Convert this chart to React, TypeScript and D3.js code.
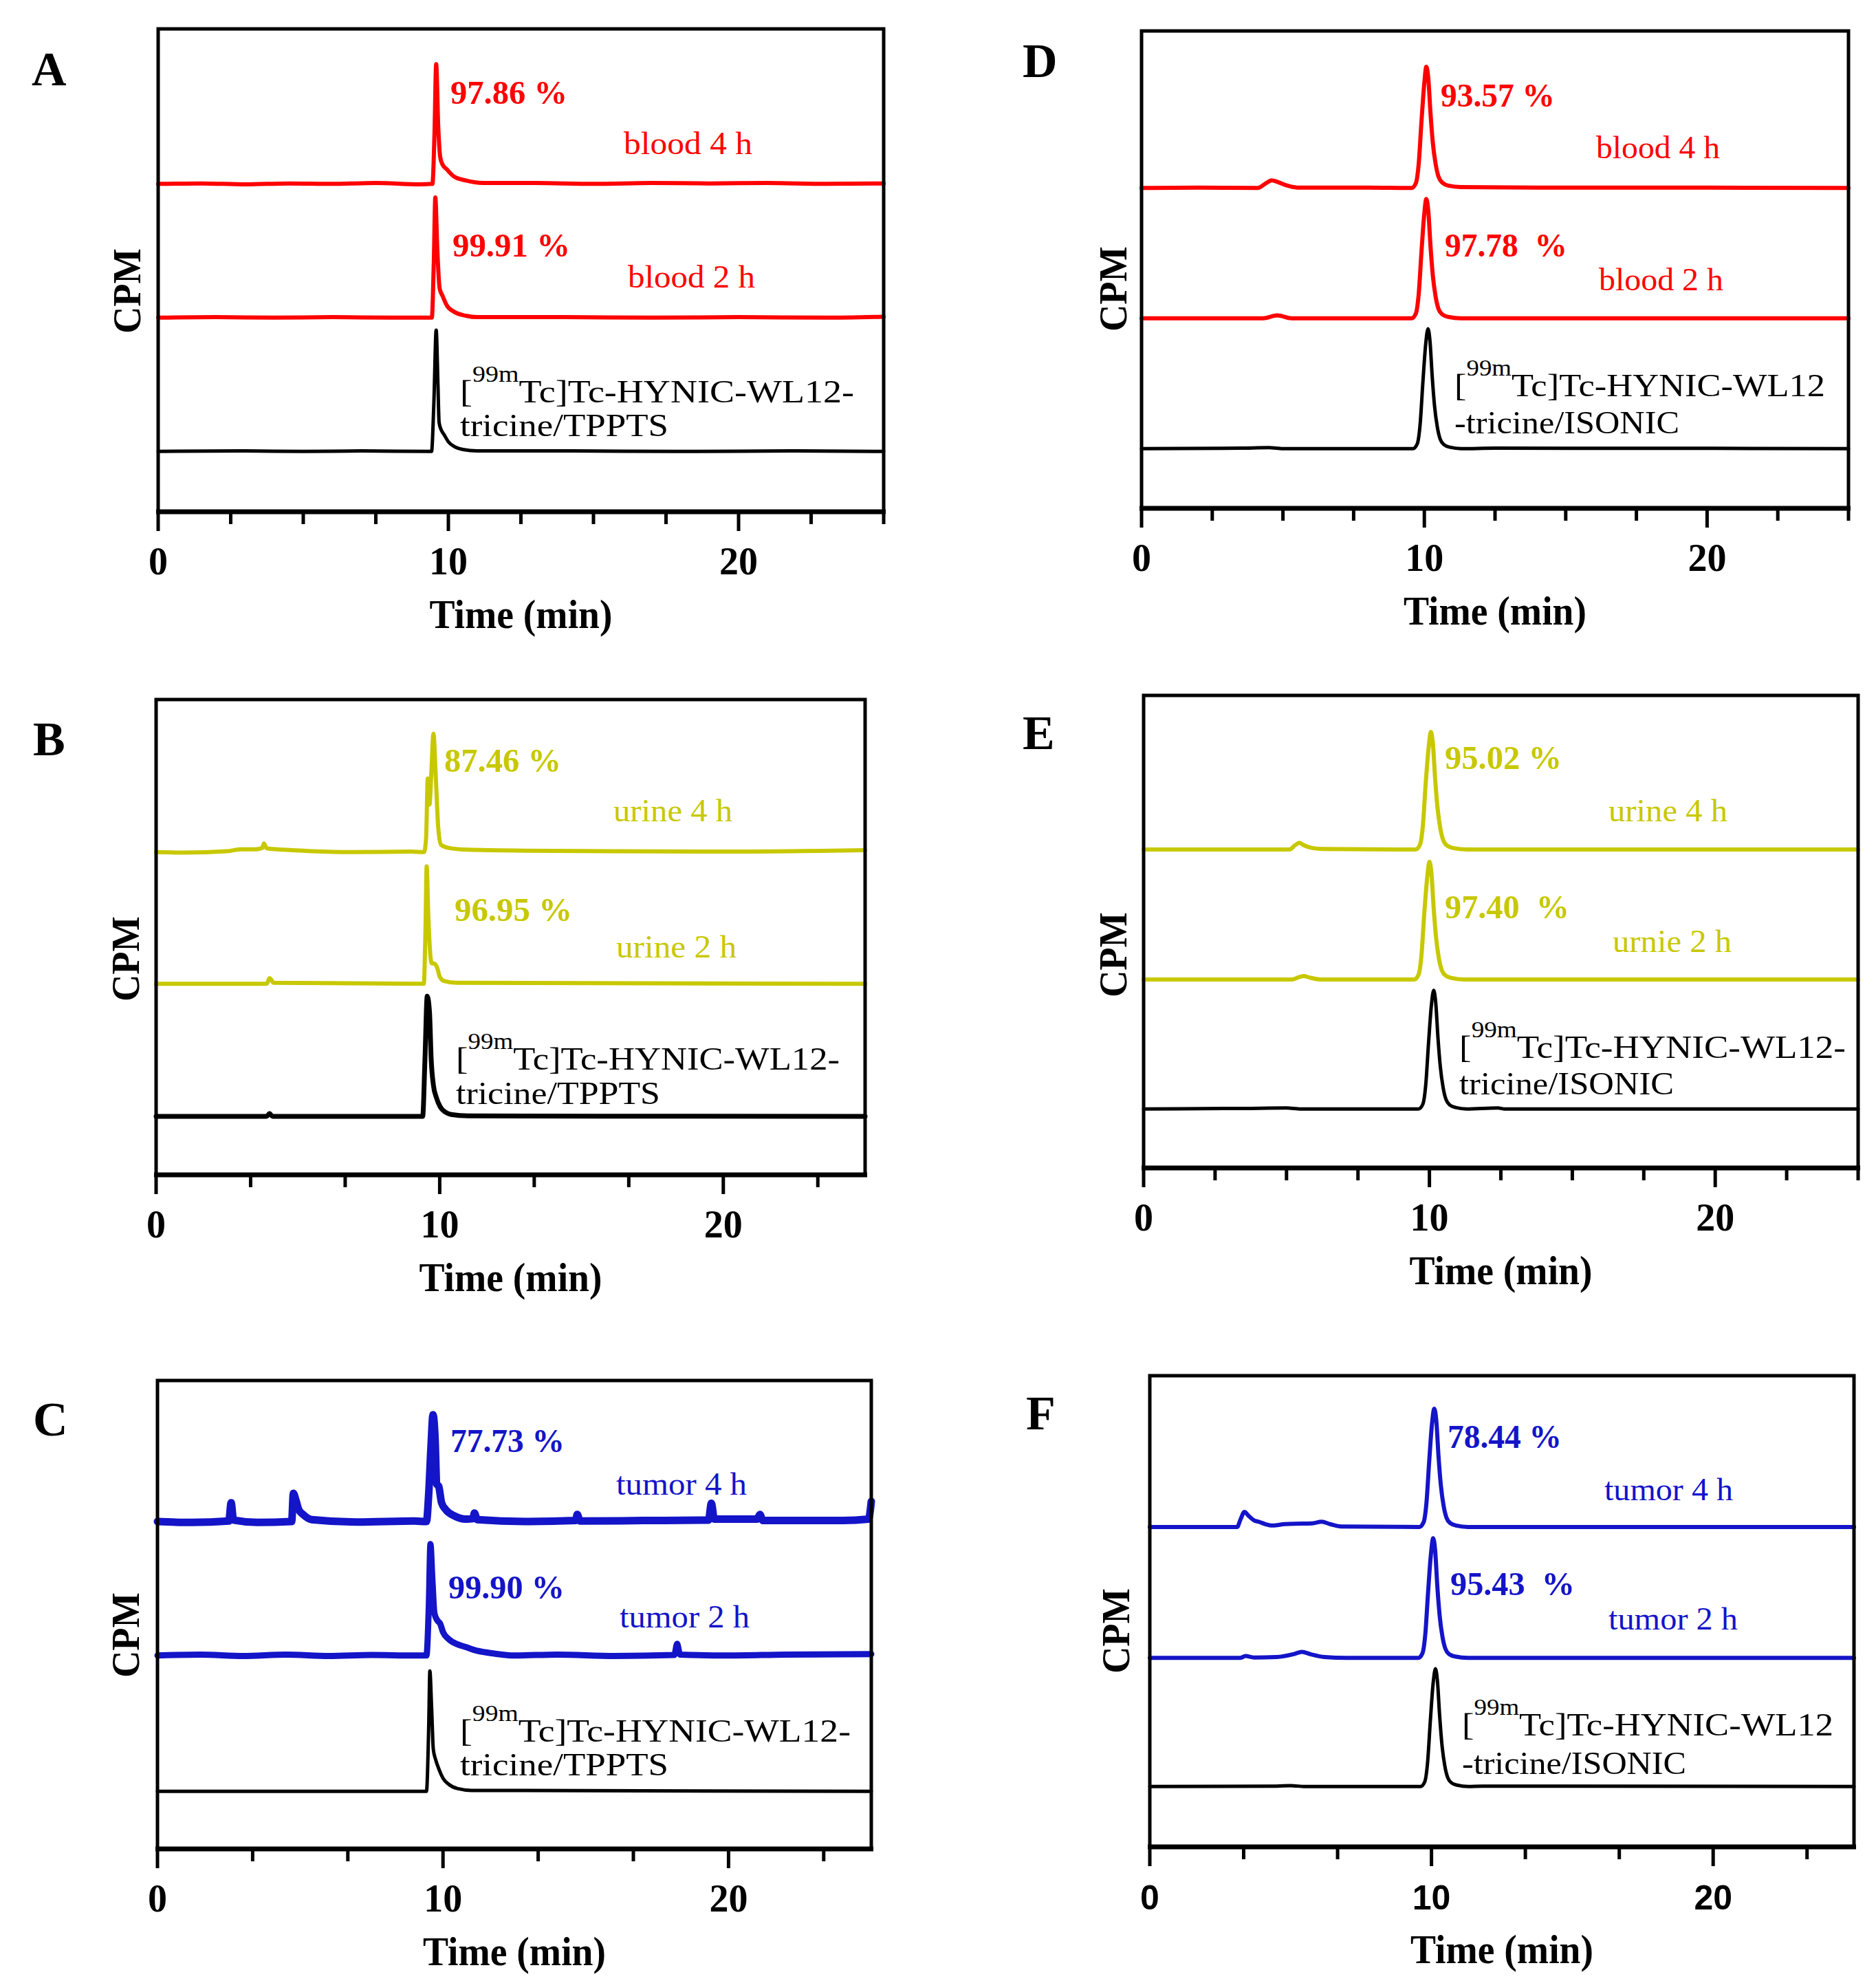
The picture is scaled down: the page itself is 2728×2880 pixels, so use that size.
import React from 'react';
import * as d3 from 'd3';

type Pt = [number, number];

// ---------- axis values ----------
const TIME_DOMAIN: [number, number] = [0, 25];
const CPM_DOMAIN: [number, number] = [0, 100];
const MAJOR_TICKS = [0, 10, 20];
const TICK_LABELS = ['0', '10', '20'];
const MINOR_QUARTER = [2.5, 5, 7.5, 12.5, 15, 17.5, 22.5, 25];
const MINOR_THIRD = [3.333, 6.667, 13.333, 16.667, 23.333];

// ---------- chromatogram traces: [time (min), counts above own baseline] ----------
// Panel A (TPPTS, blood)
const A_REF: Pt[] = [[0,0],[3,0.1],[5,0],[7,0.1],[9.42,0],[9.5,10],[9.58,25.1],[9.64,14],[9.68,6],[9.75,4.5],[9.85,3.5],[10,2],[10.2,1],[10.5,0.4],[11,0.1],[14,0.1],[18,0],[22,0.1],[25,0]];
const A_2H: Pt[] = [[0,0],[2,0.1],[4,0],[6,0.1],[8,0],[9.43,0],[9.5,12],[9.55,24.9],[9.62,14],[9.7,6],[9.8,4.5],[9.95,2.5],[10.2,1.2],[10.6,0.4],[11,0.1],[14,0.1],[17,0],[20,0.1],[23,0],[25,0.2]];
const A_4H: Pt[] = [[0,0],[1.5,0.1],[3,-0.1],[4.5,0.1],[6,0],[7.5,0.2],[9,-0.1],[9.45,0],[9.52,10],[9.58,24.8],[9.65,12],[9.72,5.5],[9.8,4],[9.95,3],[10.2,1.5],[10.6,0.7],[11.2,0.2],[13,0.2],[15,0],[17,0.2],[19,0.1],[21,0.2],[23,0],[25,0.1]];
// Panel B (TPPTS, urine)
const B_REF: Pt[] = [[0,0],[3.9,0],[4,0.6],[4.1,0],[9.4,0],[9.48,12],[9.56,25.3],[9.64,22],[9.7,12],[9.78,6.5],[9.88,4],[10.02,2],[10.2,0.9],[10.4,0.4],[11,0.1],[25,0]];
const B_2H: Pt[] = [[0,0],[3.9,0],[4,1.2],[4.15,0.2],[9.44,0],[9.5,12],[9.54,24.7],[9.6,14],[9.67,6],[9.72,4.3],[9.82,4.2],[9.92,3.2],[10,1.5],[10.15,0.6],[10.6,0.2],[25,0]];
const B_4H: Pt[] = [[0,0],[1,-0.1],[2.5,0.2],[3,0.6],[3.5,0.6],[3.75,0.9],[3.8,1.8],[3.9,0.8],[4.5,0.5],[5.5,0.2],[7,0],[9,0.1],[9.45,0],[9.52,3],[9.58,15.5],[9.64,10],[9.7,16],[9.78,24.9],[9.86,16],[9.95,5],[10.05,1.5],[10.3,0.9],[11,0.5],[13,0.3],[16,0.2],[20,0.1],[25,0.4]];
// Panel C (TPPTS, tumor)
const C_REF: Pt[] = [[0,0],[9.42,0],[9.5,14],[9.54,25.7],[9.6,18],[9.66,9],[9.74,6.8],[9.84,5],[10,2.8],[10.2,1.5],[10.5,0.6],[11,0.2],[25,0]];
const C_2H: Pt[] = [[0,0],[1.5,0.2],[3,-0.1],[4.5,0.2],[6,-0.1],[7.5,0.1],[9,0],[9.42,0],[9.5,10],[9.56,23.8],[9.63,16],[9.7,9],[9.8,7.5],[9.9,6.8],[10,5],[10.2,3.5],[10.5,2.4],[10.8,1.8],[11.2,1],[11.8,0.4],[12.5,0],[14,0.2],[16,-0.1],[18.1,0.1],[18.2,2.5],[18.3,0.2],[20,0],[22,0.2],[25,0.3]];
const C_4H: Pt[] = [[0,0],[1.2,-0.2],[2.5,0.1],[2.58,4],[2.66,0.3],[3.5,-0.2],[4.7,0],[4.76,6],[4.85,4.5],[4.95,2.5],[5.1,1.5],[5.4,0.4],[7,-0.1],[9,0.1],[9.42,0],[9.5,6],[9.58,16],[9.65,22.8],[9.72,18],[9.78,8],[9.85,7.5],[9.95,4],[10.1,2.5],[10.4,1.2],[10.8,0.5],[11.05,0.6],[11.1,1.8],[11.2,0.4],[13,0],[14.65,0.2],[14.7,1.5],[14.8,0.1],[17,0.2],[19.3,0.3],[19.4,3.9],[19.5,0.5],[21,0.5],[21.1,1.5],[21.2,0.2],[24,0.2],[24.9,0.5],[25,4.3]];
// Panel D (ISONIC, blood)
const D_REF: Pt[] = [[0,0],[3.5,0.1],[4.5,0.2],[5,0],[9.6,0],[9.75,1],[9.85,5],[9.95,14],[10.05,22],[10.13,25.1],[10.2,22.5],[10.28,15],[10.36,9],[10.46,4.5],[10.56,2],[10.7,0.8],[10.9,0.3],[11.3,0],[12.5,0.1],[25,0]];
const D_2H: Pt[] = [[0,0],[4.3,0],[4.8,0.6],[5.3,0],[9.55,0],[9.7,1],[9.8,5],[9.9,14],[10,22],[10.07,25],[10.14,22.5],[10.22,15],[10.3,9],[10.4,4.5],[10.5,2],[10.64,0.8],[10.85,0.3],[11.3,0],[25,0]];
const D_4H: Pt[] = [[0,0],[2,0.1],[4.1,0],[4.4,1],[4.6,1.6],[4.8,1.3],[5.1,0.6],[5.5,0.1],[8,0.1],[9.55,0],[9.7,1],[9.8,5],[9.9,14],[10,22],[10.07,25.4],[10.14,23],[10.22,15.5],[10.3,9.5],[10.4,5],[10.5,2.4],[10.64,1.1],[10.85,0.5],[11.3,0.2],[14,0.1],[18,0.1],[25,0]];
// Panel E (ISONIC, urine)
const E_REF: Pt[] = [[0,0],[3.5,0.1],[5,0.2],[5.5,0],[9.62,0],[9.77,1],[9.87,5],[9.97,14],[10.07,22],[10.15,25.1],[10.22,22.5],[10.3,15],[10.38,9],[10.48,4.5],[10.58,2],[10.72,0.8],[10.92,0.3],[11.3,0],[12.4,0.2],[12.6,0],[25,0]];
const E_2H: Pt[] = [[0,0],[5.2,0],[5.45,0.5],[5.6,0.7],[5.8,0.4],[6.2,0],[9.47,0],[9.62,1],[9.72,5],[9.82,14],[9.93,22],[10,24.9],[10.07,22.5],[10.15,15],[10.23,9],[10.33,4.5],[10.43,2],[10.57,0.8],[10.78,0.3],[11.2,0],[25,0]];
const E_4H: Pt[] = [[0,0],[5.1,0],[5.3,0.9],[5.45,1.4],[5.6,0.9],[5.9,0.3],[6.3,0.1],[9.52,0],[9.67,1],[9.77,5],[9.87,14],[9.98,22],[10.05,24.9],[10.12,22.5],[10.2,15],[10.28,9],[10.38,4.5],[10.48,2],[10.62,0.8],[10.83,0.3],[11.3,0],[25,0]];
// Panel F (ISONIC, tumor)
const F_REF: Pt[] = [[0,0],[4.5,0.1],[5,0.2],[5.5,0],[9.61,0],[9.76,1],[9.86,5],[9.96,14],[10.06,22],[10.14,25],[10.21,22.5],[10.29,15],[10.37,9],[10.47,4.5],[10.57,2],[10.71,0.8],[10.91,0.3],[11.3,0],[11.8,0.1],[25,0]];
const F_2H: Pt[] = [[0,0],[3.2,0],[3.4,0.4],[3.7,0.1],[4.5,0.2],[5.1,0.8],[5.4,1.3],[5.7,0.8],[6.2,0.2],[7,0],[9.53,0],[9.68,1],[9.78,5],[9.88,14],[9.98,22],[10.06,25.4],[10.13,22.8],[10.21,15],[10.29,9],[10.39,4.5],[10.49,2],[10.63,0.8],[10.84,0.3],[11.3,0],[25,0]];
const F_4H: Pt[] = [[0,0],[3.1,0],[3.22,1.6],[3.36,3.2],[3.5,2.4],[3.7,1.4],[3.87,1.1],[4.1,0.6],[4.37,0.3],[4.8,0.6],[5.4,0.7],[5.8,0.8],[6.1,1.1],[6.4,0.6],[6.8,0.1],[9.57,0],[9.72,1],[9.82,5],[9.92,14],[10.02,22],[10.1,25.1],[10.17,22.6],[10.25,15],[10.33,9],[10.43,4.5],[10.53,2],[10.67,0.8],[10.88,0.3],[11.3,0],[25,0]];

// baseline offsets (CPM units) of reference / 2 h / 4 h traces
const OFFSETS_A = [12.5, 40.2, 67.9];
const OFFSETS_B = [12.3, 40.2, 67.9];
const OFFSETS_C = [12.3, 41.3, 69.9];
const OFFSETS_D = [12.5, 39.8, 67.1];
const OFFSETS_E = [12.5, 39.9, 67.4];
const OFFSETS_F = [12.8, 40.1, 67.9];

// ---------- text ----------
const PCT_A = ['97.86 %', '99.91 %'];
const PCT_B = ['87.46 %', '96.95 %'];
const PCT_C = ['77.73 %', '99.90 %'];
const PCT_D = ['93.57 %', '97.78  %'];
const PCT_E = ['95.02 %', '97.40  %'];
const PCT_F = ['78.44 %', '95.43  %'];
const SAMPLE_A = ['blood 4 h', 'blood 2 h'];
const SAMPLE_B = ['urine 4 h', 'urine 2 h'];
const SAMPLE_C = ['tumor 4 h', 'tumor 2 h'];
const SAMPLE_D = ['blood 4 h', 'blood 2 h'];
const SAMPLE_E = ['urine 4 h', 'urnie 2 h'];
const SAMPLE_F = ['tumor 4 h', 'tumor 2 h'];
const REF_TPPTS = ['Tc]Tc-HYNIC-WL12-', 'tricine/TPPTS'];
const REF_ISONIC_A = ['Tc]Tc-HYNIC-WL12', '-tricine/ISONIC'];
const REF_ISONIC_B = ['Tc]Tc-HYNIC-WL12-', 'tricine/ISONIC'];

const RED = '#ff0000';
const YEL = '#c8c800';
const BLU = '#1414c8';
const BLK = '#000000';
const SERIF = '"Liberation Serif", "Times New Roman", serif';
const SANS = '"Liberation Sans", Arial, sans-serif';

type Lbl = { x: number; y: number; w: number };
type PanelCfg = {
  letter: string; lx: number; ly: number;
  l: number; r: number; t: number; b: number;
  minor: number[]; tickFont: string;
  traces: Pt[][]; offsets: number[]; color: string; widths: number[];
  pct: string[]; pctPos: Lbl[];
  sample: string[]; samplePos: Lbl[];
  ref: string[]; refPos: Lbl[];
  cpm: [number, number];
};

const PANELS: PanelCfg[] = [
  {
    letter: 'A', lx: 46, ly: 124, l: 230, r: 1285, t: 42, b: 744,
    minor: MINOR_QUARTER, tickFont: SERIF,
    traces: [A_REF, A_2H, A_4H], offsets: OFFSETS_A, color: RED, widths: [5, 6, 6],
    pct: PCT_A, pctPos: [{ x: 655, y: 151, w: 170 }, { x: 658, y: 373, w: 171 }],
    sample: SAMPLE_A, samplePos: [{ x: 907, y: 224, w: 187 }, { x: 913, y: 418, w: 185 }],
    ref: REF_TPPTS, refPos: [{ x: 669, y: 585, w: 573 }, { x: 669, y: 634, w: 303 }],
    cpm: [183, 423],
  },
  {
    letter: 'B', lx: 48, ly: 1098, l: 227, r: 1258, t: 1017, b: 1708,
    minor: MINOR_THIRD, tickFont: SERIF,
    traces: [B_REF, B_2H, B_4H], offsets: OFFSETS_B, color: YEL, widths: [7, 6, 6],
    pct: PCT_B, pctPos: [{ x: 646, y: 1122, w: 170 }, { x: 661, y: 1339, w: 171 }],
    sample: SAMPLE_B, samplePos: [{ x: 892, y: 1194, w: 173 }, { x: 896, y: 1392, w: 175 }],
    ref: REF_TPPTS, refPos: [{ x: 663, y: 1555, w: 558 }, { x: 663, y: 1605, w: 297 }],
    cpm: [181, 1394],
  },
  {
    letter: 'C', lx: 48, ly: 2087, l: 229, r: 1267, t: 2007, b: 2688,
    minor: MINOR_THIRD, tickFont: SERIF,
    traces: [C_REF, C_2H, C_4H], offsets: OFFSETS_C, color: BLU, widths: [5, 9, 11],
    pct: PCT_C, pctPos: [{ x: 655, y: 2111, w: 166 }, { x: 652, y: 2324, w: 169 }],
    sample: SAMPLE_C, samplePos: [{ x: 896, y: 2173, w: 190 }, { x: 901, y: 2366, w: 189 }],
    ref: REF_TPPTS, refPos: [{ x: 669, y: 2532, w: 568 }, { x: 669, y: 2581, w: 303 }],
    cpm: [181, 2377],
  },
  {
    letter: 'D', lx: 1487, ly: 112, l: 1660, r: 2688, t: 45, b: 739,
    minor: MINOR_QUARTER, tickFont: SERIF,
    traces: [D_REF, D_2H, D_4H], offsets: OFFSETS_D, color: RED, widths: [5, 6, 6],
    pct: PCT_D, pctPos: [{ x: 2095, y: 155, w: 166 }, { x: 2101, y: 373, w: 178 }],
    sample: SAMPLE_D, samplePos: [{ x: 2321, y: 230, w: 180 }, { x: 2325, y: 422, w: 181 }],
    ref: REF_ISONIC_A, refPos: [{ x: 2115, y: 576, w: 539 }, { x: 2115, y: 630, w: 327 }],
    cpm: [1617, 420],
  },
  {
    letter: 'E', lx: 1487, ly: 1089, l: 1663, r: 2702, t: 1011, b: 1698,
    minor: MINOR_QUARTER, tickFont: SERIF,
    traces: [E_REF, E_2H, E_4H], offsets: OFFSETS_E, color: YEL, widths: [5, 6, 6],
    pct: PCT_E, pctPos: [{ x: 2101, y: 1118, w: 170 }, { x: 2101, y: 1335, w: 181 }],
    sample: SAMPLE_E, samplePos: [{ x: 2339, y: 1194, w: 173 }, { x: 2345, y: 1384, w: 173 }],
    ref: REF_ISONIC_B, refPos: [{ x: 2122, y: 1538, w: 562 }, { x: 2122, y: 1591, w: 312 }],
    cpm: [1617, 1388],
  },
  {
    letter: 'F', lx: 1492, ly: 2078, l: 1672, r: 2696, t: 2000, b: 2685,
    minor: MINOR_THIRD, tickFont: SANS,
    traces: [F_REF, F_2H, F_4H], offsets: OFFSETS_F, color: BLU, widths: [5, 6, 6],
    pct: PCT_F, pctPos: [{ x: 2105, y: 2105, w: 166 }, { x: 2109, y: 2319, w: 181 }],
    sample: SAMPLE_F, samplePos: [{ x: 2333, y: 2181, w: 187 }, { x: 2339, y: 2369, w: 188 }],
    ref: REF_ISONIC_A, refPos: [{ x: 2126, y: 2523, w: 540 }, { x: 2126, y: 2579, w: 326 }],
    cpm: [1621, 2371],
  },
];

function Panel({ p }: { p: PanelCfg }) {
  const x = d3.scaleLinear().domain(TIME_DOMAIN).range([p.l, p.r]);
  const y = d3.scaleLinear().domain(CPM_DOMAIN).range([p.b, p.t]);
  const mkLine = (off: number) =>
    d3.line<Pt>().x(d => x(d[0])).y(d => y(d[1] + off)).curve(d3.curveMonotoneX);
  const colors = [BLK, p.color, p.color];
  const sans = p.tickFont === SANS;
  return (
    <g>
      <text x={p.lx} y={p.ly} fontFamily={SERIF} fontWeight="bold" fontSize={70}>{p.letter}</text>
      <text
        transform={`translate(${p.cpm[0]},${p.cpm[1]}) rotate(-90)`}
        textAnchor="middle" dy="0.36em" fontFamily={SERIF} fontWeight="bold" fontSize={58}
        textLength={124} lengthAdjust="spacingAndGlyphs"
      >CPM</text>
      {p.traces.map((tr, i) => (
        <path key={i} d={mkLine(p.offsets[i])(tr) || ''} fill="none" stroke={colors[i]}
          strokeWidth={p.widths[i]} strokeLinejoin="round" strokeLinecap="round" />
      ))}
      {/* frame */}
      <rect x={p.l} y={p.t} width={p.r - p.l} height={p.b - p.t} fill="none" stroke="#000" strokeWidth={5} />
      <line x1={p.l - 3} x2={p.r + 3} y1={p.b} y2={p.b} stroke="#000" strokeWidth={7} />
      {MAJOR_TICKS.map(v => (
        <line key={'M' + v} x1={x(v)} x2={x(v)} y1={p.b} y2={p.b + 28} stroke="#000" strokeWidth={5} />
      ))}
      {p.minor.map(v => (
        <line key={'m' + v} x1={x(v)} x2={x(v)} y1={p.b} y2={p.b + 18} stroke="#000" strokeWidth={5} />
      ))}
      {MAJOR_TICKS.map((v, i) => (
        <text key={'L' + v} x={x(v)} y={p.b + 91} textAnchor="middle" fontFamily={p.tickFont}
          fontWeight="bold" fontSize={sans ? 50 : 56}>{TICK_LABELS[i]}</text>
      ))}
      <text x={(p.l + p.r) / 2} y={p.b + 169} textAnchor="middle" fontFamily={SERIF} fontWeight="bold"
        fontSize={60} textLength={266} lengthAdjust="spacingAndGlyphs">Time (min)</text>
      {p.pct.map((s, i) => (
        <text key={'p' + i} x={p.pctPos[i].x} y={p.pctPos[i].y} fill={p.color} fontFamily={SERIF}
          fontWeight="bold" fontSize={48} textLength={p.pctPos[i].w} lengthAdjust="spacingAndGlyphs"
          style={{ whiteSpace: 'pre' }}>{s}</text>
      ))}
      {p.sample.map((s, i) => (
        <text key={'s' + i} x={p.samplePos[i].x} y={p.samplePos[i].y} fill={p.color} fontFamily={SERIF}
          fontSize={46} textLength={p.samplePos[i].w} lengthAdjust="spacingAndGlyphs">{s}</text>
      ))}
      <text x={p.refPos[0].x} y={p.refPos[0].y} fontFamily={SERIF} fontSize={47}
        textLength={p.refPos[0].w} lengthAdjust="spacingAndGlyphs">
        <tspan>[</tspan>
        <tspan fontSize={33} dy={-30}>99m</tspan>
        <tspan dy={30}>{p.ref[0]}</tspan>
      </text>
      <text x={p.refPos[1].x} y={p.refPos[1].y} fontFamily={SERIF} fontSize={47}
        textLength={p.refPos[1].w} lengthAdjust="spacingAndGlyphs">{p.ref[1]}</text>
    </g>
  );
}

export default function App() {
  return (
    <svg width={2728} height={2880} viewBox="0 0 2728 2880"
      style={{ position: 'absolute', left: 0, top: 0, display: 'block', background: '#fff' }}>
      <rect x={0} y={0} width={2728} height={2880} fill="#fff" />
      {PANELS.map(p => <Panel key={p.letter} p={p} />)}
    </svg>
  );
}
